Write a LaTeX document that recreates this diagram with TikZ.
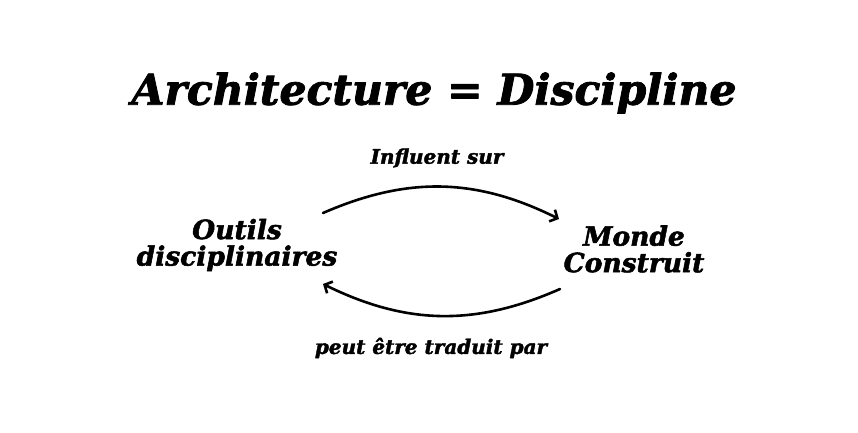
\documentclass[tikz,border=0pt]{standalone}
\usepackage{fontspec}
\setmainfont{DejaVu Serif}
\newfontfamily\heavyfont[FakeBold=2]{DejaVu Serif Bold Italic}
\usepackage{tikz}
\usetikzlibrary{arrows.meta,positioning}

\begin{document}
\begin{tikzpicture}[>={Straight Barb[length=6pt,width=13pt]},line cap=round,line join=round,
 boldit/.style={align=center,inner sep=0pt},
 cycle arrow/.style={->,line width=2.6pt,bend left=25}]
\useasboundingbox (0,0) rectangle (858pt,432pt);
% Titre
\node[boldit,font=\heavyfont\fontsize{42.5}{44}\selectfont] (titre) at (434pt,339pt)
 {Architecture = Discipline};
% Les deux pôles
\node[boldit,font=\heavyfont\fontsize{26.5}{26.5}\selectfont] (outils) at (237pt,187pt)
 {Outils\\disciplinaires};
\node[boldit,font=\heavyfont\fontsize{26.5}{26.5}\selectfont] (monde) at (634pt,183pt)
 {Monde\\Construit};
% Flèches du cycle
\draw[cycle arrow] ([shift={(86pt,32pt)}]outils.center)
 to ([shift={(-75pt,30pt)}]monde.center);
\draw[cycle arrow] ([shift={(-74pt,-40pt)}]monde.center)
 to ([shift={(86pt,-39pt)}]outils.center);
\node[boldit,font=\heavyfont\fontsize{20}{24}\selectfont] (influe) at (437pt,274pt)
 {Influent sur};
\node[boldit,font=\heavyfont\fontsize{20}{24}\selectfont] (traduit) at (431pt,84pt)
 {peut être traduit par};
\end{tikzpicture}
\end{document}
